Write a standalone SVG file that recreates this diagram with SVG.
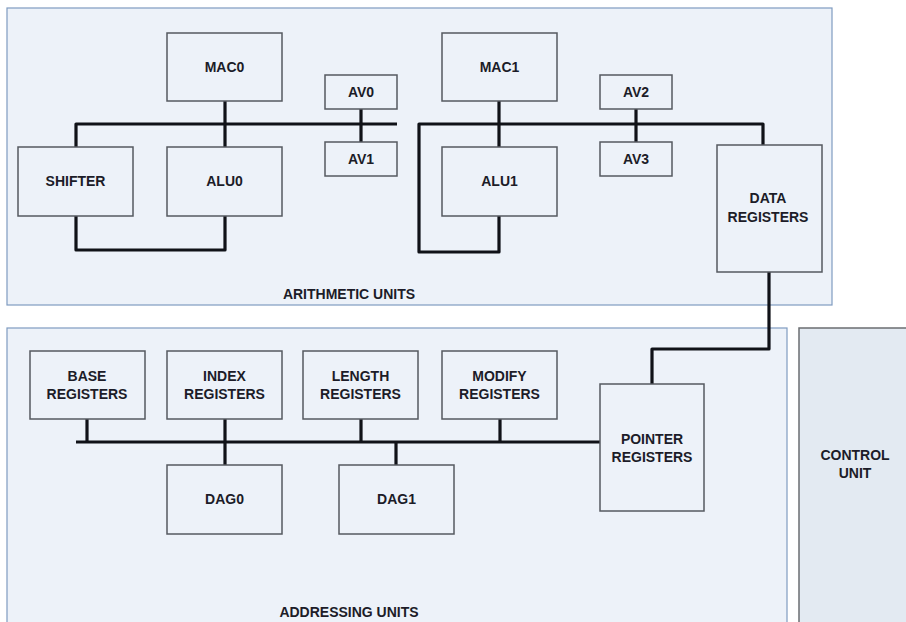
<svg xmlns="http://www.w3.org/2000/svg" width="906" height="622" viewBox="0 0 906 622">
<style>
.ctr{fill:#edf2f9;stroke:#7f9bc0;stroke-width:1.2}
.nd{fill:#edf2f9;stroke:#555a60;stroke-width:1.5}
.t{font-family:"Liberation Sans",Arial,sans-serif;font-size:14px;font-weight:bold;fill:#1c1c28;text-anchor:middle}
.bus{fill:none;stroke:#101218;stroke-width:3.2;stroke-linejoin:round}
</style>
<rect width="906" height="622" fill="#ffffff"/>
<g id="arithmetic-units">
<rect class="ctr" x="7" y="8" width="825" height="297"/>
<text class="t" x="349" y="299">ARITHMETIC UNITS</text>
</g>
<g id="addressing-units">
<rect class="ctr" x="7" y="328" width="780" height="300"/>
<text class="t" x="349" y="617">ADDRESSING UNITS</text>
</g>
<g id="control-unit">
<rect x="799" y="328" width="112" height="300" fill="#e3eaf2" stroke="#6b6e72" stroke-width="1.5"/>
<text class="t" x="855" y="460">CONTROL</text>
<text class="t" x="855" y="478">UNIT</text>
</g>
<g id="connectors">
<path class="bus" d="M76 147V124H397"/>
<path class="bus" d="M225 101V147"/>
<path class="bus" d="M361 109V142"/>
<path class="bus" d="M76 216V250H225V216"/>
<path class="bus" d="M499 216V252H419V124H763V145"/>
<path class="bus" d="M499 101V147"/>
<path class="bus" d="M636 109V142"/>
<path class="bus" d="M769 272V349H652V384"/>
<path class="bus" d="M76 442H603"/>
<path class="bus" d="M87 419V442"/>
<path class="bus" d="M225 419V465"/>
<path class="bus" d="M361 419V442"/>
<path class="bus" d="M396 442V465"/>
<path class="bus" d="M500 419V442"/>
</g>
<g id="mac0"><rect class="nd" x="167" y="33" width="115" height="68"/><text class="t" x="224.5" y="72">MAC0</text></g>
<g id="av0"><rect class="nd" x="325" y="75" width="72" height="34"/><text class="t" x="361" y="97">AV0</text></g>
<g id="av1"><rect class="nd" x="325" y="142" width="72" height="34"/><text class="t" x="361" y="164">AV1</text></g>
<g id="shifter"><rect class="nd" x="18" y="147" width="115" height="69"/><text class="t" x="75.5" y="186">SHIFTER</text></g>
<g id="alu0"><rect class="nd" x="167" y="147" width="115" height="69"/><text class="t" x="224.5" y="186">ALU0</text></g>
<g id="mac1"><rect class="nd" x="442" y="33" width="115" height="68"/><text class="t" x="499.5" y="72">MAC1</text></g>
<g id="av2"><rect class="nd" x="600" y="75" width="72" height="34"/><text class="t" x="636" y="97">AV2</text></g>
<g id="av3"><rect class="nd" x="600" y="142" width="72" height="34"/><text class="t" x="636" y="164">AV3</text></g>
<g id="alu1"><rect class="nd" x="442" y="147" width="115" height="69"/><text class="t" x="499.5" y="186">ALU1</text></g>
<g id="data-registers"><rect class="nd" x="717" y="145" width="105" height="127"/><text class="t" x="768" y="203">DATA</text><text class="t" x="768" y="222">REGISTERS</text></g>
<g id="base-registers"><rect class="nd" x="30" y="351" width="115" height="68"/><text class="t" x="87" y="381">BASE</text><text class="t" x="87" y="399">REGISTERS</text></g>
<g id="index-registers"><rect class="nd" x="167" y="351" width="115" height="68"/><text class="t" x="224.5" y="381">INDEX</text><text class="t" x="224.5" y="399">REGISTERS</text></g>
<g id="length-registers"><rect class="nd" x="303" y="351" width="115" height="68"/><text class="t" x="360.5" y="381">LENGTH</text><text class="t" x="360.5" y="399">REGISTERS</text></g>
<g id="modify-registers"><rect class="nd" x="442" y="351" width="115" height="68"/><text class="t" x="499.5" y="381">MODIFY</text><text class="t" x="499.5" y="399">REGISTERS</text></g>
<g id="pointer-registers"><rect class="nd" x="600" y="384" width="104" height="127"/><text class="t" x="652" y="444">POINTER</text><text class="t" x="652" y="462">REGISTERS</text></g>
<g id="dag0"><rect class="nd" x="167" y="465" width="115" height="69"/><text class="t" x="224.5" y="504">DAG0</text></g>
<g id="dag1"><rect class="nd" x="339" y="465" width="115" height="69"/><text class="t" x="396.5" y="504">DAG1</text></g>
</svg>
